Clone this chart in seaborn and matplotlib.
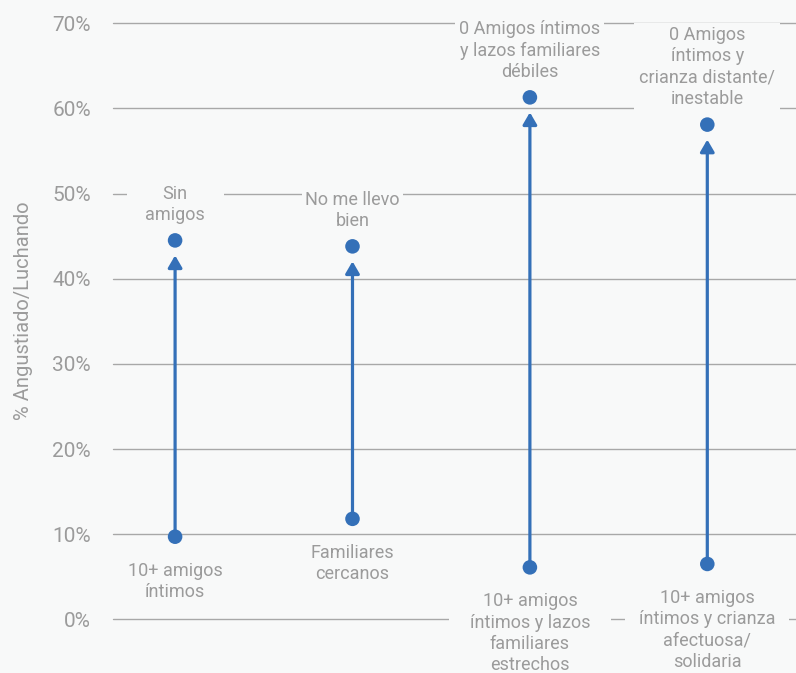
import numpy as np
import pandas as pd
import matplotlib
matplotlib.use("Agg")
import matplotlib.pyplot as plt
from matplotlib.patches import Rectangle
from matplotlib.transforms import IdentityTransform
import seaborn as sns

# Share of young people who feel distressed / struggling, by social situation
low_labels = [
    "10+ amigos\níntimos",
    "Familiares\ncercanos",
    "10+ amigos\níntimos y lazos\nfamiliares\nestrechos",
    "10+ amigos\níntimos y crianza\nafectuosa/\nsolidaria",
]
high_labels = [
    "Sin\namigos",
    "No me llevo\nbien",
    "0 Amigos íntimos\ny lazos familiares\ndébiles",
    "0 Amigos\níntimos y\ncrianza distante/\ninestable",
]
low_values = [9.7, 11.8, 6.1, 6.5]
high_values = [44.5, 43.8, 61.3, 58.1]
y_ticks = [0, 10, 20, 30, 40, 50, 60, 70]
y_tick_labels = ["0%", "10%", "20%", "30%", "40%", "50%", "60%", "70%"]
y_label = "% Angustiado/Luchando"

# width (px) of the background panel behind each label
high_box_w = [97, 98, 149, 146]
low_box_w = [97, 98, 162, 164]

BG = "#f8f9f9"
BLUE = "#3470b8"
GREY_TEXT = "#9b9b9b"
GRID = "#a8a8a8"

sns.set_theme(style="whitegrid")
plt.rcParams["font.family"] = ["Roboto", "DejaVu Sans"]

pos = np.arange(len(low_values))
df = pd.DataFrame({
    "pos": np.concatenate([pos, pos]),
    "value": low_values + high_values,
    "kind": ["low"] * len(pos) + ["high"] * len(pos),
})

fig = plt.figure(figsize=(7.96, 6.73), dpi=100, facecolor=BG)
ax = fig.add_axes([113 / 796, 0.0798, 1 - 113 / 796, 0.9654 - 0.0798])
ax.set_facecolor(BG)

# arrows from the low group to the high group
for x, lo, hi in zip(pos, low_values, high_values):
    ax.annotate(
        "", xy=(x, hi), xytext=(x, lo),
        arrowprops=dict(arrowstyle="-|>,head_length=7.2,head_width=4.2",
                        mutation_scale=1, color=BLUE, lw=2.3,
                        shrinkA=0, shrinkB=10.8),
        zorder=2,
    )

sns.scatterplot(data=df, x="pos", y="value", ax=ax, color=BLUE, s=110,
                edgecolor="none", legend=False, zorder=4)

texts = []
for x, v, t, w in zip(pos, high_values, high_labels, high_box_w):
    a = ax.annotate(t, xy=(x, v), xytext=(0, 11.8), textcoords="offset points",
                    ha="center", va="bottom", fontsize=13, color=GREY_TEXT,
                    linespacing=1.24, zorder=3, annotation_clip=False)
    texts.append((a, w))
for x, v, t, w in zip(pos, low_values, low_labels, low_box_w):
    a = ax.annotate(t, xy=(x, v), xytext=(0, -18), textcoords="offset points",
                    ha="center", va="top", fontsize=13, color=GREY_TEXT,
                    linespacing=1.24, zorder=3, annotation_clip=False)
    texts.append((a, w))

ax.set_xlim(-0.35, 3.5)
ax.set_ylim(0, 70)
ax.set_yticks(y_ticks)
ax.set_yticklabels(y_tick_labels)
ax.set_xticks([])
ax.set_xlabel("")
ax.set_ylabel(y_label, fontsize=14.5, color=GREY_TEXT, labelpad=14)
ax.yaxis.label.set_y(0.517)
ax.tick_params(axis="y", length=0, pad=16, labelsize=15, labelcolor=GREY_TEXT)
ax.grid(axis="y", color=GRID, linewidth=1.0)
ax.grid(axis="x", visible=False)
ax.set_axisbelow(True)
for s in ax.spines.values():
    s.set_visible(False)
for line in ax.get_ygridlines():
    line.set_clip_on(False)

# background panels that interrupt the gridlines behind each label
fig.canvas.draw()
renderer = fig.canvas.get_renderer()
for a, w in texts:
    bb = a.get_window_extent(renderer)
    width = max(w, bb.width + 6)
    cx = 0.5 * (bb.x0 + bb.x1)
    rect = Rectangle((cx - width / 2, bb.y0 - 3), width, bb.height + 6,
                     transform=IdentityTransform(), facecolor=BG,
                     edgecolor="none", zorder=1.5, clip_on=False)
    ax.add_artist(rect)

fig.savefig("out.png", dpi=100, facecolor=BG)
